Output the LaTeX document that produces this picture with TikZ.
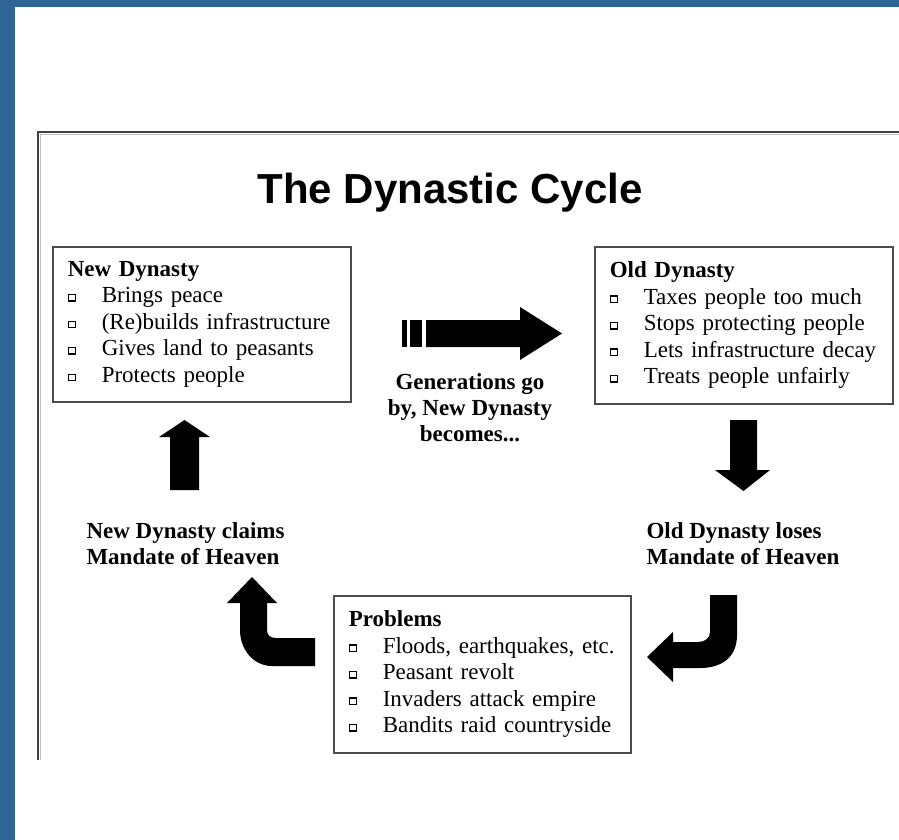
\documentclass[tikz,border=0pt]{standalone}
\usepackage{fontspec}
\setmainfont{Liberation Serif}
\newfontfamily\headfont{Liberation Sans}
\usepackage{xcolor}
\usepackage{tikz}
\usetikzlibrary{positioning}
\definecolor{frameblue}{RGB}{47,100,150}
\newcommand\bul{\makebox[34pt][l]{\raisebox{2.5pt}{\fboxsep=0pt\fboxrule=1.3pt\fbox{\rule{0pt}{5pt}\hspace{6pt}}}}}

\begin{document}
\begin{tikzpicture}[x=1pt,y=-1pt,
  listbox/.style={draw=black!70,line width=1.5pt,anchor=north west,inner xsep=15pt,
    align=left,font=\fontsize{23}{26.5}\selectfont},
  caption/.style={font=\fontsize{23}{26}\selectfont\bfseries}]
\useasboundingbox (0,0) rectangle (899,840);
\fill[frameblue] (0,0) rectangle (899,7);
\fill[frameblue] (0,0) rectangle (15,840);
\draw[black!75,line width=2pt] (38,760) -- (38,132) -- (899,132);
\draw[black!25,line width=1pt] (40.5,760) -- (40.5,134.5) -- (899,134.5);

\node[font=\headfont\bfseries\fontsize{42}{50}\selectfont,anchor=base] (title) at (450,203) {The Dynastic Cycle};

\node[listbox,minimum width=298pt,minimum height=155pt,text width=268pt] (newdyn) at (52,246)
  {\textbf{New Dynasty}\\ \bul Brings peace\\ \bul (Re)builds infrastructure\\
   \bul Gives land to peasants\\ \bul Protects people};
\node[listbox,minimum width=298pt,minimum height=157pt,text width=268pt] (olddyn) at (594,246)
  {\textbf{Old Dynasty}\\ \bul Taxes people too much\\ \bul Stops protecting people\\
   \bul Lets infrastructure decay\\ \bul Treats people unfairly};
\node[listbox,minimum width=297pt,minimum height=157pt,text width=267pt] (problems) at (333,595)
  {\textbf{Problems}\\ \bul Floods, earthquakes, etc.\\ \bul Peasant revolt\\
   \bul Invaders attack empire\\ \bul Bandits raid countryside};

\node[caption,align=center] (gencap) at (470,408) {Generations go\\ by, New Dynasty\\ becomes...};
\node[caption,align=left,anchor=west] (oldcap) at (643,544) {Old Dynasty loses\\ Mandate of Heaven};
\node[caption,align=left,anchor=west] (newcap) at (83,544) {New Dynasty claims\\ Mandate of Heaven};

% block arrows
\fill (402,320) rectangle (407,347);
\fill (410,320) rectangle (422,347);
\fill (426,320) -- (520,320) -- (520,307) -- (562,333.5) -- (520,360) -- (520,347) -- (426,347) -- cycle;
\fill (730,420) -- (757,420) -- (757,470) -- (770,470) -- (743.5,491) -- (715,470) -- (730,470) -- cycle;
\fill (170,490) -- (199,490) -- (199,437) -- (210,437) -- (184.5,420) -- (159,437) -- (170,437) -- cycle;
\fill (710,595) -- (737,595) -- (737,635) .. controls (737,657) and (722,668) .. (700,668)
  -- (673,668) -- (673,682) -- (647,657) -- (673,632) -- (673,642) -- (698,642)
  .. controls (705,642) and (710,638) .. (710,632) -- cycle;
\fill (315,638) -- (315,666) -- (272,666) .. controls (254,666) and (240,650) .. (240,630)
  -- (240,603) -- (227,603) -- (252,577) -- (277,603) -- (267,603) -- (267,630)
  .. controls (267,635) and (270,638) .. (276,638) -- cycle;
\end{tikzpicture}
\end{document}
